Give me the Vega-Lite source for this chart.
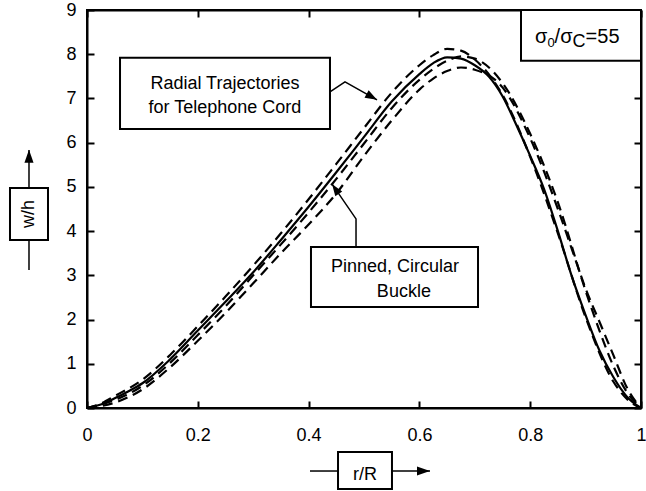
{
  "$schema": "https://vega.github.io/schema/vega-lite/v6.json",
  "width": 554,
  "height": 398,
  "autosize": {"type": "none"},
  "padding": {"left": 87, "top": 10, "right": 5, "bottom": 83},
  "background": "white",
  "config": {
    "view": {"stroke": "black", "strokeWidth": 2},
    "axis": {"domainColor": "black", "domainWidth": 2, "tickColor": "black", "tickWidth": 2, "tickSize": -7, "grid": false, "labelFont": "Liberation Sans", "labelFontSize": 18, "labelColor": "black", "labelFlush": false, "labelOverlap": false},
    "axisX": {"labelPadding": 25},
    "axisY": {"labelPadding": 18},
    "text": {"font": "Liberation Sans", "color": "black"}
  },
  "datasets": {
    "solid": [
      {"x": 0, "y": 0}, {"x": 0.025, "y": 0.08}, {"x": 0.05, "y": 0.22}, {"x": 0.075, "y": 0.38}, {"x": 0.1, "y": 0.56},
      {"x": 0.15, "y": 1.1}, {"x": 0.2, "y": 1.75}, {"x": 0.25, "y": 2.4}, {"x": 0.3, "y": 3.07}, {"x": 0.35, "y": 3.8},
      {"x": 0.4, "y": 4.55}, {"x": 0.45, "y": 5.33}, {"x": 0.5, "y": 6.13}, {"x": 0.55, "y": 6.93}, {"x": 0.6, "y": 7.55},
      {"x": 0.625, "y": 7.8}, {"x": 0.65, "y": 7.93}, {"x": 0.675, "y": 7.9}, {"x": 0.7, "y": 7.75}, {"x": 0.725, "y": 7.5},
      {"x": 0.75, "y": 7.05}, {"x": 0.775, "y": 6.4}, {"x": 0.8, "y": 5.7}, {"x": 0.825, "y": 4.95}, {"x": 0.85, "y": 4.0},
      {"x": 0.875, "y": 2.98}, {"x": 0.9, "y": 2.1}, {"x": 0.925, "y": 1.3}, {"x": 0.95, "y": 0.7}, {"x": 0.975, "y": 0.25}, {"x": 1, "y": 0}
    ],
    "dashed": [
      {"s": "A", "x": 0, "y": 0}, {"s": "A", "x": 0.025, "y": 0.1}, {"s": "A", "x": 0.05, "y": 0.27}, {"s": "A", "x": 0.1, "y": 0.64},
      {"s": "A", "x": 0.15, "y": 1.2}, {"s": "A", "x": 0.2, "y": 1.85}, {"s": "A", "x": 0.25, "y": 2.52}, {"s": "A", "x": 0.3, "y": 3.22},
      {"s": "A", "x": 0.35, "y": 3.95}, {"s": "A", "x": 0.4, "y": 4.72}, {"s": "A", "x": 0.45, "y": 5.52}, {"s": "A", "x": 0.5, "y": 6.33},
      {"s": "A", "x": 0.55, "y": 7.13}, {"s": "A", "x": 0.6, "y": 7.75}, {"s": "A", "x": 0.625, "y": 7.98}, {"s": "A", "x": 0.65, "y": 8.12},
      {"s": "A", "x": 0.675, "y": 8.08}, {"s": "A", "x": 0.7, "y": 7.88}, {"s": "A", "x": 0.75, "y": 7.08}, {"s": "A", "x": 0.8, "y": 5.68},
      {"s": "A", "x": 0.85, "y": 3.95}, {"s": "A", "x": 0.9, "y": 2.05}, {"s": "A", "x": 0.95, "y": 0.6}, {"s": "A", "x": 0.975, "y": 0.2}, {"s": "A", "x": 1, "y": 0},
      {"s": "B", "x": 0, "y": 0}, {"s": "B", "x": 0.05, "y": 0.12}, {"s": "B", "x": 0.1, "y": 0.42}, {"s": "B", "x": 0.15, "y": 0.92},
      {"s": "B", "x": 0.2, "y": 1.52}, {"s": "B", "x": 0.25, "y": 2.15}, {"s": "B", "x": 0.3, "y": 2.82}, {"s": "B", "x": 0.35, "y": 3.5},
      {"s": "B", "x": 0.4, "y": 4.15}, {"s": "B", "x": 0.45, "y": 4.85}, {"s": "B", "x": 0.5, "y": 5.7}, {"s": "B", "x": 0.55, "y": 6.5},
      {"s": "B", "x": 0.6, "y": 7.2}, {"s": "B", "x": 0.625, "y": 7.45}, {"s": "B", "x": 0.65, "y": 7.62}, {"s": "B", "x": 0.675, "y": 7.7},
      {"s": "B", "x": 0.7, "y": 7.65}, {"s": "B", "x": 0.75, "y": 7.25}, {"s": "B", "x": 0.8, "y": 6.1}, {"s": "B", "x": 0.85, "y": 4.5},
      {"s": "B", "x": 0.875, "y": 3.6}, {"s": "B", "x": 0.9, "y": 2.7}, {"s": "B", "x": 0.925, "y": 1.95}, {"s": "B", "x": 0.95, "y": 1.2},
      {"s": "B", "x": 0.975, "y": 0.45}, {"s": "B", "x": 1, "y": 0},
      {"s": "C", "x": 0, "y": 0}, {"s": "C", "x": 0.05, "y": 0.18}, {"s": "C", "x": 0.1, "y": 0.5}, {"s": "C", "x": 0.15, "y": 1.02},
      {"s": "C", "x": 0.2, "y": 1.65}, {"s": "C", "x": 0.25, "y": 2.3}, {"s": "C", "x": 0.3, "y": 3.0}, {"s": "C", "x": 0.35, "y": 3.7},
      {"s": "C", "x": 0.4, "y": 4.42}, {"s": "C", "x": 0.45, "y": 5.18}, {"s": "C", "x": 0.5, "y": 5.98}, {"s": "C", "x": 0.55, "y": 6.78},
      {"s": "C", "x": 0.6, "y": 7.42}, {"s": "C", "x": 0.65, "y": 7.85}, {"s": "C", "x": 0.675, "y": 7.95}, {"s": "C", "x": 0.7, "y": 7.9},
      {"s": "C", "x": 0.75, "y": 7.35}, {"s": "C", "x": 0.8, "y": 6.2}, {"s": "C", "x": 0.85, "y": 4.65}, {"s": "C", "x": 0.9, "y": 2.65},
      {"s": "C", "x": 0.925, "y": 1.75}, {"s": "C", "x": 0.95, "y": 0.95}, {"s": "C", "x": 0.975, "y": 0.35}, {"s": "C", "x": 1, "y": 0}
    ],
    "boxes": [
      {"id": "tel", "x": 0.0596, "x2": 0.4386, "y": 7.92, "y2": 6.31},
      {"id": "pin", "x": 0.4043, "x2": 0.7058, "y": 3.643, "y2": 2.285},
      {"id": "sig", "x": 0.7834, "x2": 1.0, "y": 9.0, "y2": 7.851},
      {"id": "wh", "x": -0.139, "x2": -0.0704, "y": 4.977, "y2": 3.801},
      {"id": "rR", "x": 0.4531, "x2": 0.5505, "y": -0.9955, "y2": -1.8326}
    ],
    "lines": [
      {"g": "tel", "o": 1, "x": 0.4386, "y": 7.149}, {"g": "tel", "o": 2, "x": 0.4657, "y": 7.376}, {"g": "tel", "o": 3, "x": 0.5235, "y": 6.968},
      {"g": "pin", "o": 1, "x": 0.4856, "y": 3.643}, {"g": "pin", "o": 2, "x": 0.4856, "y": 4.276}, {"g": "pin", "o": 3, "x": 0.4422, "y": 5.068},
      {"g": "whu", "o": 1, "x": -0.1047, "y": 4.977}, {"g": "whu", "o": 2, "x": -0.1047, "y": 5.837},
      {"g": "whd", "o": 1, "x": -0.1047, "y": 3.801}, {"g": "whd", "o": 2, "x": -0.1047, "y": 3.122},
      {"g": "rRl", "o": 1, "x": 0.4025, "y": -1.425}, {"g": "rRl", "o": 2, "x": 0.4531, "y": -1.425},
      {"g": "rRr", "o": 1, "x": 0.5505, "y": -1.425}, {"g": "rRr", "o": 2, "x": 0.6191, "y": -1.425}
    ],
    "heads": [
      {"id": "tel", "x": 0.5235, "y": 6.968},
      {"id": "pin", "x": 0.4422, "y": 5.068},
      {"id": "wh", "x": -0.1047, "y": 5.837},
      {"id": "rR", "x": 0.6191, "y": -1.425}
    ],
    "ctext": [
      {"label": "Radial Trajectories", "x": 0.249, "y": 7.217},
      {"label": "for Telephone Cord", "x": 0.249, "y": 6.674},
      {"label": "Pinned, Circular", "x": 0.556, "y": 3.077},
      {"label": "Buckle", "x": 0.572, "y": 2.511},
      {"label": "r/R", "x": 0.5018, "y": -1.629}
    ],
    "sigtext": [
      {"part": "big", "label": "σ", "x": 0.8087, "y": 8.258},
      {"part": "small", "label": "0", "x": 0.8311, "y": 8.167},
      {"part": "big", "label": "/σ", "x": 0.844, "y": 8.258},
      {"part": "mid", "label": "C", "x": 0.8765, "y": 8.167},
      {"part": "big", "label": "=55", "x": 0.9, "y": 8.258}
    ],
    "whtext": [{"label": "w/h", "x": -0.1047, "y": 4.389}]
  },
  "resolve": {"axis": {"x": "independent", "y": "independent"}},
  "layer": [
    {
      "data": {"name": "solid"},
      "mark": {"type": "line", "color": "black", "strokeWidth": 2.2, "interpolate": "monotone"},
      "encoding": {
        "x": {"field": "x", "type": "quantitative", "scale": {"domain": [0, 1], "nice": false, "zero": false},
              "axis": {"orient": "bottom", "values": [0, 0.2, 0.4, 0.6, 0.8, 1], "format": ".1~f", "title": null}},
        "y": {"field": "y", "type": "quantitative", "scale": {"domain": [0, 9], "nice": false, "zero": false},
              "axis": {"orient": "left", "values": [0, 1, 2, 3, 4, 5, 6, 7, 8, 9], "title": null}}
      }
    },
    {
      "data": {"name": "dashed"},
      "mark": {"type": "line", "color": "black", "strokeWidth": 2.2, "strokeDash": [10, 6], "interpolate": "monotone"},
      "encoding": {
        "x": {"field": "x", "type": "quantitative", "scale": {"domain": [0, 1], "nice": false, "zero": false},
              "axis": {"orient": "top", "values": [0, 0.2, 0.4, 0.6, 0.8, 1], "labels": false, "title": null}},
        "y": {"field": "y", "type": "quantitative", "scale": {"domain": [0, 9], "nice": false, "zero": false},
              "axis": {"orient": "right", "values": [0, 1, 2, 3, 4, 5, 6, 7, 8, 9], "labels": false, "title": null}},
        "detail": {"field": "s", "type": "nominal"}
      }
    },
    {
      "data": {"name": "lines"},
      "mark": {"type": "line", "color": "black", "strokeWidth": 1.5, "interpolate": "linear"},
      "encoding": {
        "x": {"field": "x", "type": "quantitative", "scale": {"domain": [0, 1], "nice": false, "zero": false}, "axis": null},
        "y": {"field": "y", "type": "quantitative", "scale": {"domain": [0, 9], "nice": false, "zero": false}, "axis": null},
        "detail": {"field": "g", "type": "nominal"},
        "order": {"field": "o", "type": "quantitative"}
      }
    },
    {
      "data": {"name": "boxes"},
      "mark": {"type": "rect", "fill": "white", "stroke": "black", "strokeWidth": 2},
      "encoding": {
        "x": {"field": "x", "type": "quantitative", "scale": {"domain": [0, 1], "nice": false, "zero": false}, "axis": null},
        "x2": {"field": "x2"},
        "y": {"field": "y", "type": "quantitative", "scale": {"domain": [0, 9], "nice": false, "zero": false}, "axis": null},
        "y2": {"field": "y2"}
      }
    },
    {
      "data": {"name": "heads"},
      "transform": [{"filter": "datum.id === 'tel'"}],
      "mark": {"type": "point", "shape": "M0,0L0.35,1L-0.35,1Z", "size": 576, "filled": true, "color": "black", "opacity": 1, "angle": 119.4},
      "encoding": {
        "x": {"field": "x", "type": "quantitative", "scale": {"domain": [0, 1], "nice": false, "zero": false}, "axis": null},
        "y": {"field": "y", "type": "quantitative", "scale": {"domain": [0, 9], "nice": false, "zero": false}, "axis": null}
      }
    },
    {
      "data": {"name": "heads"},
      "transform": [{"filter": "datum.id === 'pin'"}],
      "mark": {"type": "point", "shape": "M0,0L0.35,1L-0.35,1Z", "size": 576, "filled": true, "color": "black", "opacity": 1, "angle": 325.6},
      "encoding": {
        "x": {"field": "x", "type": "quantitative", "scale": {"domain": [0, 1], "nice": false, "zero": false}, "axis": null},
        "y": {"field": "y", "type": "quantitative", "scale": {"domain": [0, 9], "nice": false, "zero": false}, "axis": null}
      }
    },
    {
      "data": {"name": "heads"},
      "transform": [{"filter": "datum.id === 'wh'"}],
      "mark": {"type": "point", "shape": "M0,0L0.35,1L-0.35,1Z", "size": 676, "filled": true, "color": "black", "opacity": 1, "angle": 0},
      "encoding": {
        "x": {"field": "x", "type": "quantitative", "scale": {"domain": [0, 1], "nice": false, "zero": false}, "axis": null},
        "y": {"field": "y", "type": "quantitative", "scale": {"domain": [0, 9], "nice": false, "zero": false}, "axis": null}
      }
    },
    {
      "data": {"name": "heads"},
      "transform": [{"filter": "datum.id === 'rR'"}],
      "mark": {"type": "point", "shape": "M0,0L0.35,1L-0.35,1Z", "size": 676, "filled": true, "color": "black", "opacity": 1, "angle": 90},
      "encoding": {
        "x": {"field": "x", "type": "quantitative", "scale": {"domain": [0, 1], "nice": false, "zero": false}, "axis": null},
        "y": {"field": "y", "type": "quantitative", "scale": {"domain": [0, 9], "nice": false, "zero": false}, "axis": null}
      }
    },
    {
      "data": {"name": "ctext"},
      "mark": {"type": "text", "fontSize": 18, "align": "center", "baseline": "alphabetic"},
      "encoding": {
        "x": {"field": "x", "type": "quantitative", "scale": {"domain": [0, 1], "nice": false, "zero": false}, "axis": null},
        "y": {"field": "y", "type": "quantitative", "scale": {"domain": [0, 9], "nice": false, "zero": false}, "axis": null},
        "text": {"field": "label"}
      }
    },
    {
      "data": {"name": "sigtext"},
      "transform": [{"filter": "datum.part === 'big'"}],
      "mark": {"type": "text", "fontSize": 20, "align": "left", "baseline": "alphabetic"},
      "encoding": {
        "x": {"field": "x", "type": "quantitative", "scale": {"domain": [0, 1], "nice": false, "zero": false}, "axis": null},
        "y": {"field": "y", "type": "quantitative", "scale": {"domain": [0, 9], "nice": false, "zero": false}, "axis": null},
        "text": {"field": "label"}
      }
    },
    {
      "data": {"name": "sigtext"},
      "transform": [{"filter": "datum.part === 'small'"}],
      "mark": {"type": "text", "fontSize": 13, "align": "left", "baseline": "alphabetic"},
      "encoding": {
        "x": {"field": "x", "type": "quantitative", "scale": {"domain": [0, 1], "nice": false, "zero": false}, "axis": null},
        "y": {"field": "y", "type": "quantitative", "scale": {"domain": [0, 9], "nice": false, "zero": false}, "axis": null},
        "text": {"field": "label"}
      }
    },
    {
      "data": {"name": "sigtext"},
      "transform": [{"filter": "datum.part === 'mid'"}],
      "mark": {"type": "text", "fontSize": 18, "align": "left", "baseline": "alphabetic"},
      "encoding": {
        "x": {"field": "x", "type": "quantitative", "scale": {"domain": [0, 1], "nice": false, "zero": false}, "axis": null},
        "y": {"field": "y", "type": "quantitative", "scale": {"domain": [0, 9], "nice": false, "zero": false}, "axis": null},
        "text": {"field": "label"}
      }
    },
    {
      "data": {"name": "whtext"},
      "mark": {"type": "text", "fontSize": 18, "align": "center", "baseline": "middle", "angle": 270},
      "encoding": {
        "x": {"field": "x", "type": "quantitative", "scale": {"domain": [0, 1], "nice": false, "zero": false}, "axis": null},
        "y": {"field": "y", "type": "quantitative", "scale": {"domain": [0, 9], "nice": false, "zero": false}, "axis": null},
        "text": {"field": "label"}
      }
    }
  ]
}
